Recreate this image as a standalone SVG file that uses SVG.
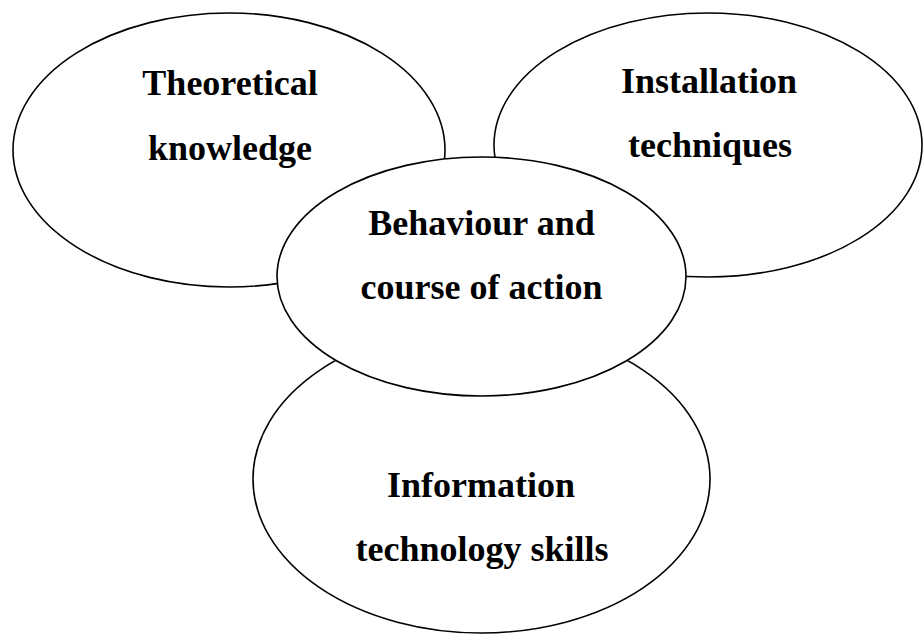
<svg xmlns="http://www.w3.org/2000/svg" width="923" height="634" viewBox="0 0 923 634">
<style>
.node ellipse{fill:#fff;stroke:#000;stroke-width:1.6}
.node text{font-family:"Liberation Serif","Times New Roman",serif;font-weight:bold;font-size:36px;fill:#000;text-anchor:middle}
</style>
<rect width="923" height="634" fill="#fff"/>
<g id="theoretical" class="node">
<ellipse cx="229" cy="150" rx="216" ry="137"/>
<text x="230" y="95">Theoretical</text>
<text x="230" y="160">knowledge</text>
</g>
<g id="installation" class="node">
<ellipse cx="708" cy="145" rx="214" ry="132"/>
<text x="709" y="93">Installation</text>
<text x="710" y="157">techniques</text>
</g>
<g id="it-skills" class="node">
<ellipse cx="481.5" cy="479" rx="228.5" ry="154"/>
<text x="481" y="497">Information</text>
<text x="482" y="561">technology skills</text>
</g>
<g id="behaviour" class="node">
<ellipse cx="481.5" cy="276.5" rx="204.5" ry="119.5"/>
<text x="481.5" y="235">Behaviour and</text>
<text x="481.5" y="299">course of action</text>
</g>
<g id="connectors"></g>
</svg>
